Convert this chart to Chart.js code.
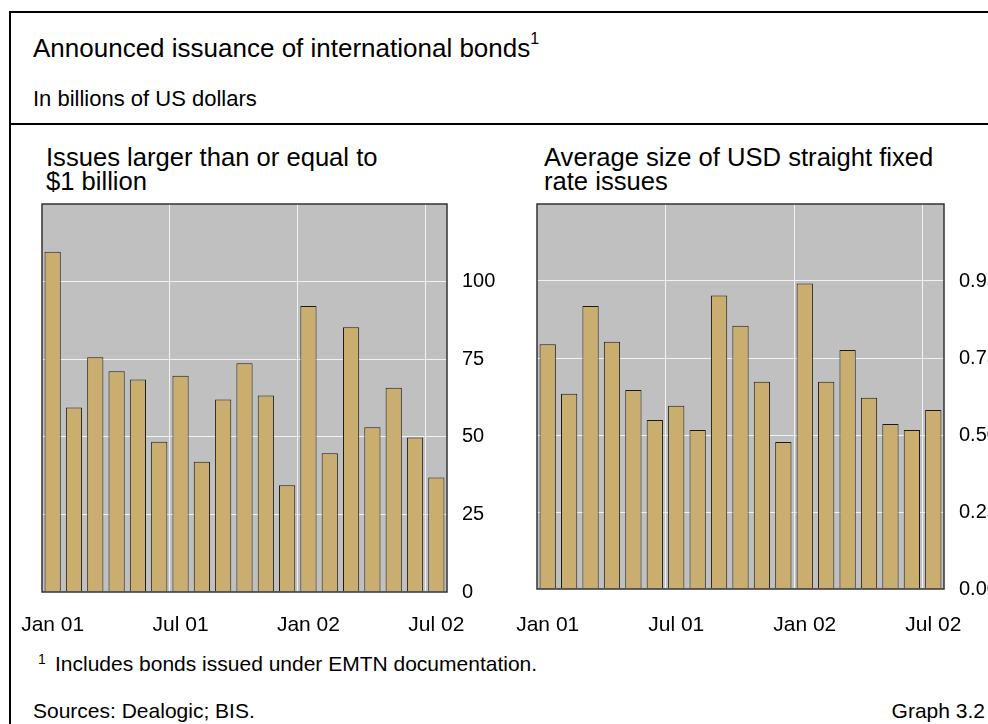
<!DOCTYPE html>
<html>
<head>
<meta charset="utf-8">
<script src="https://cdn.jsdelivr.net/npm/chart.js@4"></script>
<style>
  html, body { margin: 0; padding: 0; background: #fff; }
  body { width: 988px; height: 724px; position: relative; overflow: hidden;
         font-family: "Liberation Sans", Arial, sans-serif; color: #000; }
  .t { position: absolute; white-space: nowrap; line-height: 1; }
  #frame { position: absolute; left: 9px; top: 11px; width: 1000px; height: 800px;
           border-left: 2px solid #000; border-top: 2px solid #000; }
  #sep { position: absolute; left: 9px; top: 123px; width: 1000px; height: 2px; background: #000; }
  canvas { position: absolute; }
</style>
</head>
<body>
<div id="frame"></div>
<div id="sep"></div>

<div class="t" style="left:33px; top:34px; font-size:26px;">Announced issuance of international bonds<sup style="font-size:16px; position:relative; top:-3px;">1</sup></div>
<div class="t" style="left:33px; top:88px; font-size:22px;">In billions of US dollars</div>

<div class="t" style="left:46px; top:145px; font-size:25.6px;">Issues larger than or equal to</div>
<div class="t" style="left:46px; top:169px; font-size:25.6px;">$1 billion</div>
<div class="t" style="left:544px; top:145px; font-size:25.6px;">Average size of USD straight fixed</div>
<div class="t" style="left:544px; top:169px; font-size:25.6px;">rate issues</div>

<canvas id="chartLeft" width="510" height="450" style="left:0px; top:190px;"></canvas>
<canvas id="chartRight" width="478" height="450" style="left:510px; top:190px;"></canvas>

<div class="t" style="left:38px; top:652px; font-size:14px;">1</div>
<div class="t" style="left:55px; top:653px; font-size:21px;">Includes bonds issued under EMTN documentation.</div>
<div class="t" style="left:33px; top:700px; font-size:21px;">Sources: Dealogic; BIS.</div>
<div class="t" style="right:3px; top:700px; font-size:21px;">Graph 3.2</div>

<script>
// months Jan 01 .. Jul 02
const months = ["Jan 01", "Feb 01", "Mar 01", "Apr 01", "May 01", "Jun 01", "Jul 01", "Aug 01", "Sep 01", "Oct 01",
    "Nov 01", "Dec 01", "Jan 02", "Feb 02", "Mar 02", "Apr 02", "May 02", "Jun 02", "Jul 02"];
const xTickLabels = ["Jan 01", "Jul 01", "Jan 02", "Jul 02"];

// issues >= $1 billion
const largeIssues = [109.6, 59.4, 75.6, 71.1, 68.5, 48.4, 69.7, 42.0, 62.0, 73.7,
    63.3, 34.4, 92.1, 44.7, 85.3, 53.1, 65.8, 49.8, 36.9];
const leftTickLabels = ["0", "25", "50", "75", "100"];

// average size of USD straight fixed rate issues
const avgSize = [0.795, 0.634, 0.919, 0.803, 0.646, 0.549, 0.595, 0.516, 0.953, 0.855,
    0.673, 0.477, 0.992, 0.673, 0.776, 0.621, 0.536, 0.516, 0.581];
const rightTickLabels = ["0.00", "0.25", "0.50", "0.75", "0.95"];

const boundaryIdx = months.map((m, i) => xTickLabels.includes(m) ? i : -1).filter(i => i > 0);

const plotFrame = {
    id: "plotFrame",
    beforeDraw(chart) {
        const a = chart.chartArea, ctx = chart.ctx;
        ctx.save();
        ctx.fillStyle = "#c0c0c0";
        ctx.fillRect(a.left, a.top, a.right - a.left, a.bottom - a.top);
        ctx.restore();
    },
    afterDraw(chart) {
        const a = chart.chartArea, ctx = chart.ctx;
        ctx.save();
        ctx.strokeStyle = "#333";
        ctx.lineWidth = 1.5;
        ctx.strokeRect(a.left, a.top, a.right - a.left, a.bottom - a.top);
        ctx.restore();
    }
};

function makeChart(id, values, yMax, yStep, yLabels, pad, yWidth, xHeight, xPad) {
    const ctx = document.getElementById(id).getContext("2d");
    return new Chart(ctx, {
        type: "bar",
        data: {
            labels: months,
            datasets: [{
                data: values,
                backgroundColor: "#c9ae6f",
                borderColor: "#1a1a1a",
                borderWidth: 1,
                barPercentage: 0.76,
                categoryPercentage: 1.0
            }]
        },
        options: {
            responsive: false,
            animation: false,
            layout: { padding: pad },
            plugins: { legend: { display: false }, tooltip: { enabled: false } },
            scales: {
                x: {
                    offset: true,
                    grid: {
                        offset: true,
                        drawTicks: false,
                        lineWidth: 1,
                        color: c => boundaryIdx.includes(c.index) ? "#f2f2f2" : "rgba(0,0,0,0)"
                    },
                    border: { display: false },
                    ticks: {
                        autoSkip: false,
                        maxRotation: 0,
                        padding: xPad,
                        color: "#000",
                        font: { family: "Liberation Sans", size: 21 },
                        callback: (v, i) => xTickLabels.includes(months[i]) ? months[i] : ""
                    },
                    afterFit(s) { s.height = xHeight; s.paddingLeft = 0; s.paddingRight = 0; }
                },
                y: {
                    position: "right",
                    min: 0,
                    max: yMax,
                    grid: {
                        drawTicks: false,
                        lineWidth: 1,
                        color: c => (c.index === 0 || c.index >= yLabels.length) ? "rgba(0,0,0,0)" : "#f2f2f2"
                    },
                    border: { display: false },
                    ticks: {
                        stepSize: yStep,
                        padding: 15,
                        color: "#000",
                        font: { family: "Liberation Sans", size: 20 },
                        callback: (v, i) => i < yLabels.length ? yLabels[i] : ""
                    },
                    afterFit(s) { s.width = yWidth; s.paddingTop = 0; s.paddingBottom = 0; }
                }
            }
        },
        plugins: [plotFrame]
    });
}

makeChart("chartLeft", largeIssues, 125, 25, leftTickLabels, { left: 42, top: 14, right: 0, bottom: 0 }, 63, 48, 21);
makeChart("chartRight", avgSize, 1.25, 0.25, rightTickLabels, { left: 27, top: 14, right: 0, bottom: 0 }, 44, 51, 24);
</script>
</body>
</html>
